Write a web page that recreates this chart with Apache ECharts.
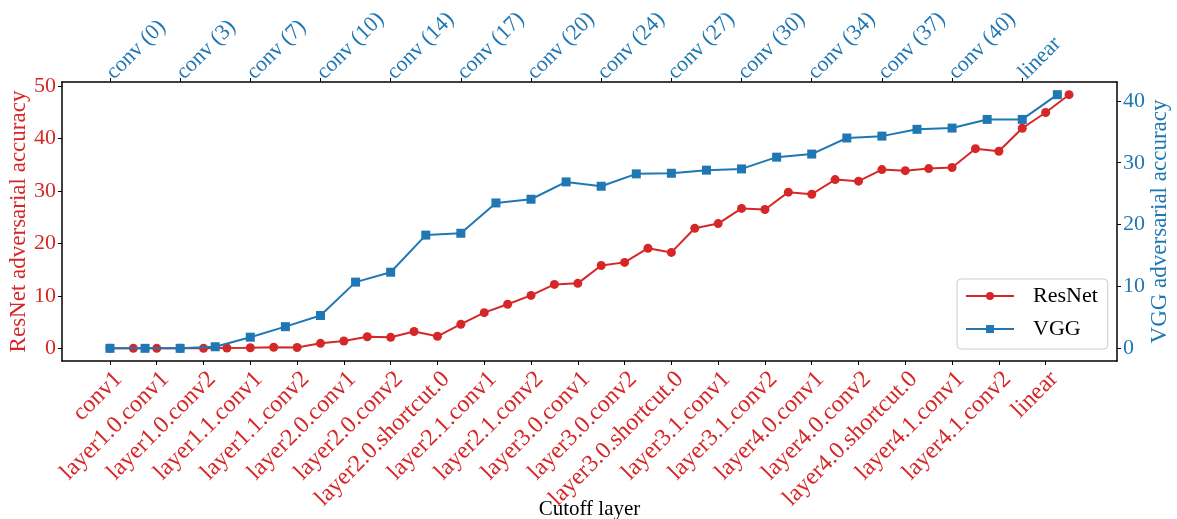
<!DOCTYPE html>
<html>
<head>
<meta charset="utf-8">
<script src="https://cdn.jsdelivr.net/npm/echarts@6/dist/echarts.min.js"></script>
<style>
  html, body { margin: 0; padding: 0; background: #ffffff; }
  #chart { width: 1177px; height: 519px; }
</style>
</head>
<body>
<div id="chart"></div>
<script>
// Tick labels: ResNet layers (bottom axis, every 2nd cutoff point)
const resnetLabels = [
  'conv1', 'layer1.0.conv1', 'layer1.0.conv2', 'layer1.1.conv1', 'layer1.1.conv2',
  'layer2.0.conv1', 'layer2.0.conv2', 'layer2.0.shortcut.0', 'layer2.1.conv1', 'layer2.1.conv2',
  'layer3.0.conv1', 'layer3.0.conv2', 'layer3.0.shortcut.0', 'layer3.1.conv1', 'layer3.1.conv2',
  'layer4.0.conv1', 'layer4.0.conv2', 'layer4.0.shortcut.0', 'layer4.1.conv1', 'layer4.1.conv2',
  'linear'
];
// Tick labels: VGG layers (top axis, every 2nd cutoff point)
const vggLabels = [
  'conv (0)', 'conv (3)', 'conv (7)', 'conv (10)', 'conv (14)', 'conv (17)', 'conv (20)',
  'conv (24)', 'conv (27)', 'conv (30)', 'conv (34)', 'conv (37)', 'conv (40)', 'linear'
];
// Adversarial accuracy per cutoff point
const resnetAcc = [
  0, 0, 0, 0, 0, 0.05, 0.1, 0.2, 0.15, 0.95,
  1.4, 2.2, 2.1, 3.2, 2.3, 4.6, 6.8, 8.4, 10.1, 12.2,
  12.4, 15.8, 16.4, 19.1, 18.3, 22.9, 23.8, 26.7, 26.5, 29.8,
  29.4, 32.2, 31.9, 34.1, 33.9, 34.3, 34.5, 38.1, 37.6, 42.0,
  45.0, 48.4
];
const vggAcc = [
  0, 0, 0, 0.25, 1.8, 3.5, 5.3, 10.7, 12.3, 18.3,
  18.6, 23.5, 24.1, 26.9, 26.2, 28.2, 28.3, 28.8, 29.0, 30.9,
  31.4, 34.0, 34.3, 35.4, 35.6, 37.0, 37.0, 41.0
];
const resnetTicksY = [0, 10, 20, 30, 40, 50];
const vggTicksY = [0, 10, 20, 30, 40];

const RED = '#d62728';
const BLUE = '#1f77b4';
const FONT = 'Liberation Serif';
const FS = 23;

// Padded extents (5% margin on each side of the data range)
function padded(lo, hi) {
  const r = hi - lo;
  return [lo - 0.05 * r, hi + 0.05 * r];
}
const xRes = padded(0, resnetAcc.length - 1);
const scaleV = vggAcc.length / resnetAcc.length;
const xVgg = [xRes[0] * scaleV, xRes[1] * scaleV];
const yRes = padded(Math.min(...resnetAcc), Math.max(...resnetAcc));
const yVgg = padded(Math.min(...vggAcc), Math.max(...vggAcc));

const resTickPos = resnetLabels.map((_, i) => 2 * i);
const vggTickPos = vggLabels.map((_, i) => 2 * i);

const frameLine = { show: true, onZero: false, lineStyle: { color: '#000', width: 1.5 } };

const chart = echarts.init(document.getElementById('chart'), null, { renderer: 'canvas' });
chart.setOption({
  animation: false,
  backgroundColor: '#ffffff',
  grid: { left: 62, right: 60, top: 82, bottom: 158, containLabel: false, outerBoundsMode: 'none' },
  legend: {
    orient: 'vertical',
    left: 957,
    top: 279,
    padding: [6, 10, 9, 8],
    itemWidth: 48,
    itemHeight: 10,
    itemGap: 11,
    backgroundColor: 'rgba(255,255,255,0.8)',
    borderColor: '#cccccc',
    borderWidth: 1,
    borderRadius: 4,
    textStyle: { fontFamily: FONT, fontSize: 22, color: '#000', lineHeight: 22, padding: [0, 0, 0, 14] },
    data: ['ResNet', 'VGG']
  },
  xAxis: [
    {
      type: 'value',
      position: 'bottom',
      min: xRes[0],
      max: xRes[1],
      axisLine: frameLine,
      splitLine: { show: false },
      axisTick: { show: true, length: 4, customValues: resTickPos, lineStyle: { color: '#000', width: 1 } },
      axisLabel: {
        customValues: resTickPos,
        formatter: v => resnetLabels[Math.round(v / 2)],
        rotate: 45,
        margin: 6,
        verticalAlign: 'top',
        color: RED,
        fontFamily: FONT,
        fontSize: 24
      },
      name: 'Cutoff layer',
      nameLocation: 'middle',
      nameGap: 138,
      nameMoveOverlap: false,
      nameTextStyle: { fontFamily: FONT, fontSize: 21, color: '#000' }
    },
    {
      type: 'value',
      position: 'top',
      min: xVgg[0],
      max: xVgg[1],
      axisLine: frameLine,
      splitLine: { show: false },
      axisTick: { show: true, length: 4, customValues: vggTickPos, lineStyle: { color: '#000', width: 1 } },
      axisLabel: {
        customValues: vggTickPos,
        formatter: v => vggLabels[Math.round(v / 2)],
        rotate: -45,
        margin: 6,
        color: BLUE,
        fontFamily: FONT,
        fontSize: 22
      }
    }
  ],
  yAxis: [
    {
      type: 'value',
      position: 'left',
      min: yRes[0],
      max: yRes[1],
      axisLine: frameLine,
      splitLine: { show: false },
      axisTick: { show: true, length: 4, customValues: resnetTicksY, lineStyle: { color: '#000', width: 1 } },
      axisLabel: { customValues: resnetTicksY, margin: 6, color: RED, fontFamily: FONT, fontSize: 22 },
      name: 'ResNet adversarial accuracy',
      nameLocation: 'middle',
      nameRotate: 90,
      nameGap: 32,
      nameMoveOverlap: false,
      nameTextStyle: { fontFamily: FONT, fontSize: FS, color: RED }
    },
    {
      type: 'value',
      position: 'right',
      min: yVgg[0],
      max: yVgg[1],
      axisLine: frameLine,
      splitLine: { show: false },
      axisTick: { show: true, length: 4, customValues: vggTicksY, lineStyle: { color: '#000', width: 1 } },
      axisLabel: { customValues: vggTicksY, margin: 6, color: BLUE, fontFamily: FONT, fontSize: 22 },
      name: 'VGG adversarial accuracy',
      nameLocation: 'middle',
      nameRotate: 90,
      nameGap: 31,
      nameMoveOverlap: false,
      nameTextStyle: { fontFamily: FONT, fontSize: FS, color: BLUE }
    }
  ],
  series: [
    {
      name: 'ResNet',
      type: 'line',
      xAxisIndex: 0,
      yAxisIndex: 0,
      data: resnetAcc.map((v, i) => [i, v]),
      symbol: 'circle',
      symbolSize: 9,
      color: RED,
      lineStyle: { width: 2, color: RED },
      itemStyle: { color: RED },
      z: 2
    },
    {
      name: 'VGG',
      type: 'line',
      xAxisIndex: 1,
      yAxisIndex: 1,
      data: vggAcc.map((v, i) => [i, v]),
      symbol: 'rect',
      symbolSize: 9,
      color: BLUE,
      lineStyle: { width: 2, color: BLUE },
      itemStyle: { color: BLUE },
      z: 3
    }
  ]
});
</script>
</body>
</html>
